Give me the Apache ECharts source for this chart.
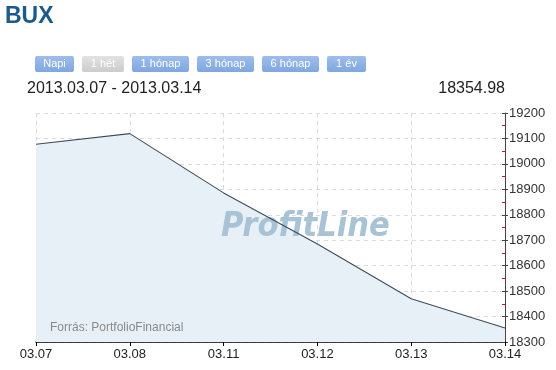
<!DOCTYPE html>
<html>
<head>
<meta charset="utf-8">
<script src="https://cdn.jsdelivr.net/npm/echarts@6/dist/echarts.min.js"></script>
<style>html,body{margin:0;padding:0;background:#fff;}#c{width:556px;height:370px;}</style>
</head>
<body>
<div id="c"></div>
<script>
var categories = ['03.07', '03.08', '03.11', '03.12', '03.13', '03.14'];
var values = [19077, 19119, 18886, 18685, 18470, 18354.98];
var buttonLabels = ['Napi', '1 hét', '1 hónap', '3 hónap', '6 hónap', '1 év'];
var titleText = 'BUX';
var rangeText = '2013.03.07 - 2013.03.14';
var lastValueText = '18354.98';
var sourceText = 'Forrás: PortfolioFinancial';
var watermarkText = 'ProfitLine';

var FONT = '"Liberation Sans", Arial, sans-serif';
var btnX = [35, 82, 132, 197, 262, 327];
var btnW = [39, 42, 57, 57, 57, 39];

var graphics = [
  {type:'text', left:5, top:5, style:{text:titleText, font:'bold 23px ' + FONT, fill:'#1b5a8a'}},
  {type:'text', left:27, top:81, style:{text:rangeText, font:'16px ' + FONT, fill:'#222'}},
  {type:'text', right:51, top:81, style:{text:lastValueText, font:'16px ' + FONT, fill:'#222'}},
  {type:'text', left:50, top:322, z:5, style:{text:sourceText, font:'12px ' + FONT, fill:'#8a8a8a'}},
  {type:'text', left:221, top:210, z:2, style:{text:watermarkText, font:'italic bold 34px "DejaVu Sans Condensed", "DejaVu Sans", sans-serif', fill:'#a8c3d5'}}
];
buttonLabels.forEach(function(lbl, i){
  var gray = (i === 1);
  graphics.push({
    type:'group', left:btnX[i], top:56,
    children:[
      {type:'rect', shape:{x:0, y:0, width:btnW[i], height:16, r:2},
       style:{fill: gray ? new echarts.graphic.LinearGradient(0,0,0,1,[{offset:0,color:'#e2e2e2'},{offset:1,color:'#cccccc'}])
                         : new echarts.graphic.LinearGradient(0,0,0,1,[{offset:0,color:'#9dbdec'},{offset:1,color:'#7fa7e0'}])}},
      {type:'text', x:btnW[i]/2, y:8, style:{text:lbl, font:'11px ' + FONT, fill:'#fff', align:'center', verticalAlign:'middle'}}
    ]
  });
});

var chart = echarts.init(document.getElementById('c'));
chart.setOption({
  animation:false,
  grid:{left:36, right:51, top:113, bottom:28, containLabel:false},
  graphic:graphics,
  xAxis:{
    type:'category', data:categories, boundaryGap:false,
    axisLine:{lineStyle:{color:'#000', width:1.5}},
    axisTick:{show:true, alignWithLabel:true, length:4, lineStyle:{color:'#000'}},
    axisLabel:{color:'#222', fontSize:13, fontFamily:FONT, margin:6, interval:0},
    splitLine:{show:true, lineStyle:{color:'#dcdcdc', type:[4,4]}}
  },
  yAxis:[{
    type:'value', position:'right', min:18300, max:19200, interval:100,
    axisLine:{show:true, lineStyle:{color:'#444'}},
    axisTick:{show:true, length:3, lineStyle:{color:'#444'}},
    axisLabel:{color:'#333', fontSize:13, fontFamily:FONT, margin:4, formatter:function(v){return String(v);}},
    splitLine:{show:true, lineStyle:{color:'#dcdcdc', type:[4,4]}}
  },{
    type:'value', position:'right', offset:-3, min:18300, max:19200, interval:50,
    axisLine:{show:false},
    axisTick:{show:true, length:3, lineStyle:{color:'#d0103a'}},
    axisLabel:{show:false},
    splitLine:{show:false}
  },{
    type:'value', position:'right', offset:-3, min:18300, max:19200, interval:100,
    axisLine:{show:false},
    axisTick:{show:true, length:3, lineStyle:{color:'#444'}},
    axisLabel:{show:false},
    splitLine:{show:false}
  }],
  series:[{
    type:'line', data:values, symbol:'none', z:1,
    lineStyle:{width:0},
    areaStyle:{color:'#e8f0f7', opacity:1}
  },{
    type:'line', data:values, symbol:'none', z:3,
    lineStyle:{color:'#3d4d5c', width:1.1}
  }]
});
</script>
</body>
</html>
